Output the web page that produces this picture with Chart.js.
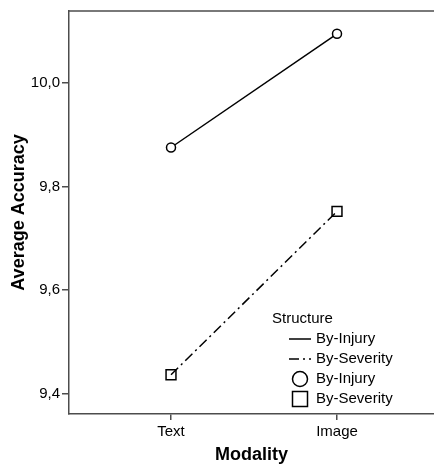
<!DOCTYPE html>
<html>
<head>
<meta charset="utf-8">
<script src="https://cdn.jsdelivr.net/npm/chart.js@4/dist/chart.umd.min.js"></script>
<style>
  html, body { margin: 0; padding: 0; background: #fff; overflow: hidden; }
  canvas { display: block; }
</style>
</head>
<body>
<canvas id="grafico" width="434" height="464"></canvas>
<script>
// datos
const categorias = ["Text", "Image"];
const seriesNombres = ["By-Injury", "By-Severity"];
const byInjury = [9.875, 10.094];
const bySeverity = [9.437, 9.752];
const yTicks = [9.4, 9.6, 9.8, 10.0];
const tituloLeyenda = "Structure";

const FUENTE = "'Liberation Sans', Arial, sans-serif";
const EJE = "#4d4d4d";

const aPuntos = vals => vals.map((v, i) => ({ x: i, y: v }));

// el area llega hasta el borde derecho del lienzo (recorte original)
const areaHastaBorde = {
    id: "areaHastaBorde",
    afterLayout(chart) {
        const xs = chart.scales.x;
        chart.chartArea.right = chart.width;
        chart.chartArea.width = chart.chartArea.right - chart.chartArea.left;
        xs.right = chart.width;
        xs.width = xs.right - xs.left;
        xs.configure();
    }
};

// borde superior del area del grafico
const bordeSuperior = {
    id: "bordeSuperior",
    afterDraw(chart) {
        const { ctx, chartArea } = chart;
        ctx.save();
        ctx.strokeStyle = EJE;
        ctx.lineWidth = 1.5;
        ctx.beginPath();
        ctx.moveTo(chartArea.left, chartArea.top);
        ctx.lineTo(chart.width, chartArea.top);
        ctx.stroke();
        ctx.restore();
    }
};

// leyenda dentro del area, estilo SPSS
const leyendaSpss = {
    id: "leyendaSpss",
    afterDraw(chart) {
        const { ctx } = chart;
        const ds = chart.data.datasets;
        const x0 = 272, y0 = 319, paso = 20;
        const xm = 300, xt = 316;
        ctx.save();
        ctx.font = "15px " + FUENTE;
        ctx.fillStyle = "#000";
        ctx.textBaseline = "middle";
        ctx.textAlign = "left";
        ctx.fillText(tituloLeyenda, x0, y0);

        // lineas
        ds.forEach((d, i) => {
            const y = y0 + paso * (i + 1);
            ctx.strokeStyle = "#000";
            ctx.lineWidth = 1.5;
            ctx.setLineDash(d.borderDash || []);
            ctx.beginPath();
            ctx.moveTo(289, y);
            ctx.lineTo(311, y);
            ctx.stroke();
            ctx.setLineDash([]);
            ctx.fillText(d.label, xt, y);
        });
        // marcadores
        ds.forEach((d, i) => {
            const y = y0 + paso * (ds.length + i + 1);
            ctx.strokeStyle = "#000";
            ctx.lineWidth = 1.5;
            ctx.beginPath();
            if (d.pointStyle === "circle") {
                ctx.arc(xm, y, 7.5, 0, Math.PI * 2);
            } else {
                ctx.rect(xm - 7.5, y - 7.5, 15, 15);
            }
            ctx.stroke();
            ctx.fillText(d.label, xt, y);
        });
        ctx.restore();
    }
};

const ctx = document.getElementById("grafico").getContext("2d");
new Chart(ctx, {
    type: "line",
    data: {
        datasets: [
            {
                label: seriesNombres[0],
                data: aPuntos(byInjury),
                borderColor: "#000",
                borderWidth: 1.5,
                pointStyle: "circle",
                pointRadius: 4.5,
                pointBorderWidth: 1.5,
                pointBorderColor: "#000",
                pointBackgroundColor: "#fff"
            },
            {
                label: seriesNombres[1],
                data: aPuntos(bySeverity),
                borderColor: "#000",
                borderWidth: 1.5,
                borderDash: [10, 4, 2, 4],
                pointStyle: "rect",
                pointRadius: 7,
                pointBorderWidth: 1.5,
                pointBorderColor: "#000",
                pointBackgroundColor: "rgba(0,0,0,0)"
            }
        ]
    },
    options: {
        responsive: false,
        animation: false,
        devicePixelRatio: 1,
        layout: { padding: { top: 10, right: 0, bottom: 0, left: 0 } },
        plugins: {
            legend: { display: false },
            tooltip: { enabled: false }
        },
        scales: {
            x: {
                type: "linear",
                min: -0.6145,
                max: 1.5843,
                afterBuildTicks: s => { s.ticks = categorias.map((c, i) => ({ value: i })); },
                afterFit: s => {
                    s.height = 50;
                    s.paddingLeft = 0;
                    s.paddingRight = 0;
                },
                ticks: {
                    callback: v => categorias[v],
                    font: { family: FUENTE, size: 15 },
                    color: "#000",
                    padding: 3,
                    maxRotation: 0
                },
                grid: { drawOnChartArea: false, tickLength: 6, color: EJE, lineWidth: 1.5 },
                border: { color: EJE, width: 1.5 },
                title: {
                    display: true,
                    text: "Modality",
                    font: { family: FUENTE, size: 18, weight: "bold", lineHeight: 1 },
                    color: "#000",
                    padding: { top: 0, bottom: 0 }
                }
            },
            y: {
                min: 9.3615,
                max: 10.138,
                afterBuildTicks: s => { s.ticks = yTicks.map(v => ({ value: v })); },
                afterFit: s => { s.width = 69; },
                ticks: {
                    callback: v => v.toFixed(1).replace(".", ","),
                    font: { family: FUENTE, size: 15 },
                    color: "#000",
                    padding: 2
                },
                grid: { drawOnChartArea: false, tickLength: 7, color: EJE, lineWidth: 1.5 },
                border: { color: EJE, width: 1.5 },
                title: {
                    display: true,
                    text: "Average Accuracy",
                    font: { family: FUENTE, size: 18, weight: "bold", lineHeight: 1 },
                    color: "#000",
                    padding: { top: 10, bottom: 0 }
                }
            }
        }
    },
    plugins: [areaHastaBorde, bordeSuperior, leyendaSpss]
});
</script>
</body>
</html>
